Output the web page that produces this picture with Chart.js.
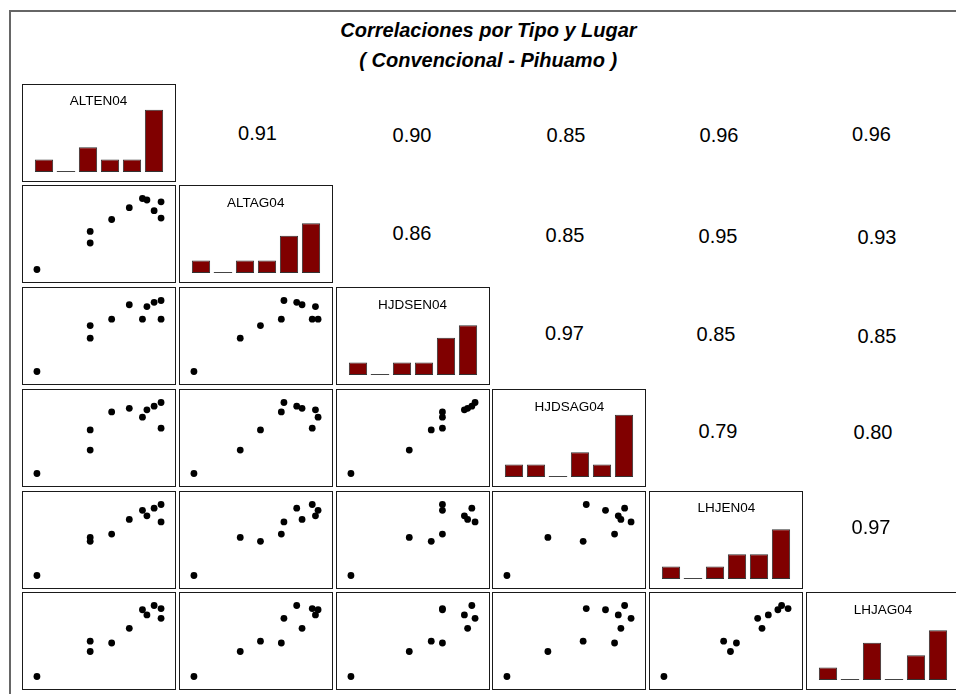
<!DOCTYPE html>
<html>
<head>
<meta charset="utf-8">
<script src="https://cdn.jsdelivr.net/npm/chart.js@4.4.1/dist/chart.umd.min.js"></script>
<style>
  html, body { margin: 0; padding: 0; background: #fff; overflow: hidden; }
  body { width: 956px; height: 694px; position: relative; font-family: 'Liberation Sans', Arial, sans-serif; }
  .frame { position: absolute; left: 9px; top: 10px; width: 947px; height: 684px; border-left: 2px solid #666; border-top: 2px solid #666; box-sizing: border-box; }
  .panel { position: absolute; border: 1px solid #1a1a1a; box-sizing: border-box; background: #fff; }
  .panel canvas { display: block; }
  .txt { position: absolute; white-space: nowrap; color: #000; }
  .title { font-weight: bold; font-style: italic; font-size: 20px; line-height: 24px; text-align: center; }
  .corr { font-size: 20px; line-height: 24px; text-align: center; width: 80px; }
  .hlabel { font-size: 13.5px; line-height: 16px; text-align: center; }
</style>
</head>
<body>
<div class="frame"></div>
<div id="root"></div>
<script>
// ====== DATA ======
// variable names (diagonal)
const varNames = ['ALTEN04', 'ALTAG04', 'HJDSEN04', 'HJDSAG04', 'LHJEN04', 'LHJAG04'];

const ALTEN04  = [0, 0.429, 0.429, 0.602, 0.744, 0.850, 0.886, 0.944, 1.000, 1.000];
const ALTAG04  = [0, 0.536, 0.373, 0.704, 0.871, 1.000, 0.979, 0.828, 0.953, 0.725];
const HJDSEN04 = [0, 0.647, 0.470, 0.737, 0.940, 0.737, 0.914, 0.974, 0.737, 1.000];
const HJDSAG04 = [0, 0.614, 0.330, 0.867, 0.918, 0.794, 0.897, 0.948, 0.639, 1.000];
const LHJEN04  = [0, 0.481, 0.536, 0.584, 0.790, 0.918, 0.841, 0.948, 1.000, 0.755];
const LHJAG04  = [0, 0.498, 0.352, 0.472, 0.678, 0.940, 0.867, 1.000, 0.957, 0.820];

// histogram counts (6 bins each)
const binLabels    = ['1', '2', '3', '4', '5', '6'];
const histALTEN04  = [1, 0, 2, 1, 1, 5];
const histALTAG04  = [1, 0, 1, 1, 3, 4];
const histHJDSEN04 = [1, 0, 1, 1, 3, 4];
const histHJDSAG04 = [1, 1, 0, 2, 1, 5];
const histLHJEN04  = [1, 0, 1, 2, 2, 4];
const histLHJAG04  = [1, 0, 3, 0, 2, 4];

// correlations, upper triangle by row
const corrRow1 = [0.91, 0.90, 0.85, 0.96, 0.96];
const corrRow2 = [0.86, 0.85, 0.95, 0.93];
const corrRow3 = [0.97, 0.85, 0.85];
const corrRow4 = [0.79, 0.80];
const corrRow5 = [0.97];

const titleText    = 'Correlaciones por Tipo y Lugar';
const subtitleText = '( Convencional - Pihuamo )';

// ====== LAYOUT ======
const vars  = [ALTEN04, ALTAG04, HJDSEN04, HJDSAG04, LHJEN04, LHJAG04];
const hists = [histALTEN04, histALTAG04, histHJDSEN04, histHJDSAG04, histLHJEN04, histLHJAG04];
const corrs = [corrRow1, corrRow2, corrRow3, corrRow4, corrRow5];

const PW = 154, PH = 98;
const colX = j => 21.7 + 156.92 * j;
const rowY = i => 83.5 + 101.76 * i;

// centre of each correlation label [row][col]
const corrPos = {
  '0,1': [257.5, 134], '0,2': [412, 136], '0,3': [566, 136], '0,4': [719, 136], '0,5': [871.5, 134.3],
  '1,2': [412, 234], '1,3': [565, 236], '1,4': [718, 237], '1,5': [877, 237.5],
  '2,3': [564.5, 334], '2,4': [716, 335], '2,5': [877, 337],
  '3,4': [718, 432], '3,5': [873, 433],
  '4,5': [871, 528]
};

const root = document.getElementById('root');

function addText(cls, text, cx, cy, size) {
  const d = document.createElement('div');
  d.className = 'txt ' + cls;
  d.textContent = text;
  root.appendChild(d);
  const w = d.offsetWidth;
  d.style.left = (cx - w / 2) + 'px';
  d.style.top = (cy - 0.64 * size) + 'px';
  return d;
}

function addPanel(i, j) {
  const p = document.createElement('div');
  p.className = 'panel';
  p.style.left = colX(j) + 'px';
  p.style.top = rowY(i) + 'px';
  p.style.width = PW + 'px';
  p.style.height = PH + 'px';
  const c = document.createElement('canvas');
  c.width = PW - 2;
  c.height = PH - 2;
  p.appendChild(c);
  root.appendChild(p);
  return c;
}

// empty bins drawn as a flat line like R's hist
const zeroBarLine = {
  id: 'zeroBarLine',
  afterDatasetsDraw(chart) {
    const meta = chart.getDatasetMeta(0);
    const ctx = chart.ctx;
    ctx.save();
    ctx.strokeStyle = '#444';
    ctx.lineWidth = 1;
    meta.data.forEach((bar, k) => {
      if (chart.data.datasets[0].data[k] !== 0) return;
      const y = Math.round(chart.scales.y.getPixelForValue(0)) - 0.5;
      ctx.beginPath();
      ctx.moveTo(bar.x - bar.width / 2, y);
      ctx.lineTo(bar.x + bar.width / 2, y);
      ctx.stroke();
    });
    ctx.restore();
  }
};

const baseOpts = {
  responsive: false,
  animation: false,
  devicePixelRatio: 1,
  events: [],
  plugins: { legend: { display: false }, tooltip: { enabled: false }, title: { display: false } }
};

function histChart(canvas, counts) {
  new Chart(canvas, {
    type: 'bar',
    data: {
      labels: binLabels,
      datasets: [{
        data: counts,
        backgroundColor: '#800000',
        borderColor: '#333',
        borderWidth: 1,
        borderSkipped: false,
        barPercentage: 0.83,
        categoryPercentage: 1
      }]
    },
    options: Object.assign({}, baseOpts, {
      layout: { padding: { left: 10, right: 10, top: 0, bottom: 9 } },
      scales: {
        x: { display: false },
        y: { display: false, min: 0, max: 7 }
      }
    }),
    plugins: [zeroBarLine]
  });
}

function scatterChart(canvas, xs, ys) {
  new Chart(canvas, {
    type: 'scatter',
    data: {
      datasets: [{
        data: xs.map((x, k) => ({ x: x, y: ys[k] })),
        backgroundColor: '#000',
        borderColor: '#000',
        borderWidth: 0,
        pointRadius: 3.4
      }]
    },
    options: Object.assign({}, baseOpts, {
      layout: { padding: 0 },
      scales: {
        x: { type: 'linear', display: false, min: -0.08, max: 1.08 },
        y: { type: 'linear', display: false, min: -0.12, max: 1.12 }
      }
    })
  });
}

// titles
addText('title', titleText, 488.3, 30.5, 20);
addText('title', subtitleText, 488.3, 60.5, 20);

for (let i = 0; i < 6; i++) {
  for (let j = 0; j < 6; j++) {
    if (i === j) {
      histChart(addPanel(i, j), hists[i]);
      addText('hlabel', varNames[i], colX(j) + PW / 2, rowY(i) + 18.5, 13.5);
    } else if (i > j) {
      scatterChart(addPanel(i, j), vars[j], vars[i]);
    } else {
      const pos = corrPos[i + ',' + j];
      addText('corr', corrs[i][j - i - 1].toFixed(2), pos[0], pos[1], 20);
    }
  }
}
</script>
</body>
</html>
